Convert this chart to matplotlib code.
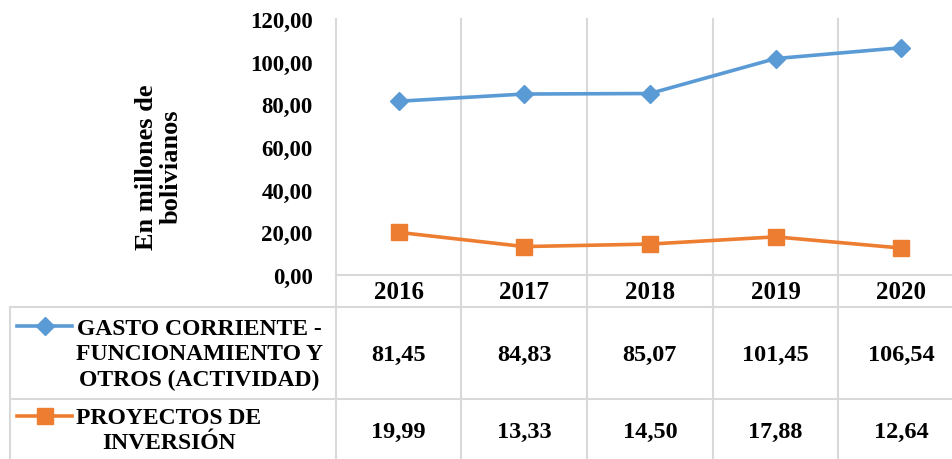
import matplotlib.pyplot as plt
from matplotlib.lines import Line2D
from matplotlib.transforms import Affine2D, blended_transform_factory

years = ["2016", "2017", "2018", "2019", "2020"]
gasto = [81.45, 84.83, 85.07, 101.45, 106.54]
proyectos = [19.99, 13.33, 14.50, 17.88, 12.64]
names = ["GASTO CORRIENTE -\nFUNCIONAMIENTO Y\nOTROS (ACTIVIDAD)", "PROYECTOS DE\nINVERSIÓN"]
yticks = [0, 20, 40, 60, 80, 100, 120]

W, H = 953, 460
blue = '#5B9BD5'
orange = '#ED7D31'
grid = '#D9D9D9'
plt.rcParams['font.family'] = ['Liberation Serif', 'DejaVu Serif']
plt.rcParams['font.weight'] = 'bold'

fig = plt.figure(figsize=(W / 100, H / 100), dpi=100)
# pixel coords, origin top-left
pix = Affine2D().scale(1, -1).translate(0, H)

left, right, top, bottom = 335.7, 964, 20, 276
ax = fig.add_axes([left / W, (H - bottom) / H, (right - left) / W, (bottom - top) / H])
ax.patch.set_visible(False)

x = list(range(len(years)))
ax.plot(x, gasto, color=blue, lw=2.6, marker='D', ms=9.5, zorder=3)
ax.plot(x, proyectos, color=orange, lw=2.6, marker='s', ms=11, zorder=3)

ax.set_xlim(-0.5, len(years) - 0.5)
ax.set_ylim(0, 120)
ax.set_yticks(yticks)
ax.set_yticklabels([f"{v:.2f}".replace('.', ',') for v in yticks], fontsize=16.5, fontweight='bold')
ax.tick_params(axis='y', length=0, pad=16.5)
ax.set_xticks([])
for s in ['top', 'right', 'left']:
    ax.spines[s].set_visible(False)
ax.spines['bottom'].set_color(grid)
ax.spines['bottom'].set_linewidth(1.5)

# category separators running down through the table
bx = blended_transform_factory(ax.transData, pix)
for b in [i + 0.5 for i in range(-1, len(years))]:
    fig.add_artist(Line2D([b, b], [top, H], transform=bx, color=grid, lw=1.5, zorder=0))

# table horizontal lines
for yy in [308, 400]:
    fig.add_artist(Line2D([10, W], [yy, yy], transform=pix, color=grid, lw=1.5))
fig.add_artist(Line2D([10, 10], [308, H], transform=pix, color=grid, lw=1.5))

# header and values
for i, yr in enumerate(years):
    fig.text(i, 293, yr, transform=bx, ha='center', va='center', fontsize=18, fontweight='bold')
    fig.text(i, 355, f"{gasto[i]:.2f}".replace('.', ','), transform=bx, ha='center', va='center',
             fontsize=17.5, fontweight='bold')
    fig.text(i, 432, f"{proyectos[i]:.2f}".replace('.', ','), transform=bx, ha='center', va='center',
             fontsize=17.5, fontweight='bold')

# legend keys and series names
fig.add_artist(Line2D([17, 72], [327, 327], transform=pix, color=blue, lw=2.6))
fig.add_artist(Line2D([44.5], [327], transform=pix, color=blue, marker='D', ms=9.5))
fig.add_artist(Line2D([17, 72], [417, 417], transform=pix, color=orange, lw=2.6))
fig.add_artist(Line2D([44.5], [417], transform=pix, color=orange, marker='s', ms=11))
fig.text(76, 355, names[0], transform=pix, ha='left', va='center', multialignment='center',
         fontsize=17, fontweight='bold', linespacing=1.25)
fig.text(76, 431, names[1], transform=pix, ha='left', va='center', multialignment='center',
         fontsize=17, fontweight='bold', linespacing=1.25)

fig.text(159, 167, "En millones de\nbolivianos", transform=pix, rotation=90, ha='center', va='center',
         fontsize=19, fontweight='bold', linespacing=1.1)

fig.savefig("out.png", dpi=100)
